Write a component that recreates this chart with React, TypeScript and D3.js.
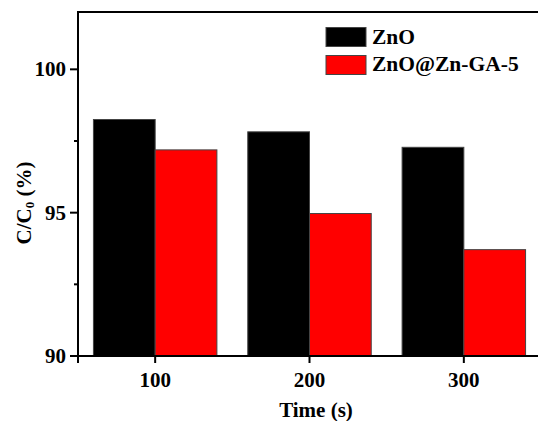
import * as d3 from "d3";
import { useEffect, useRef } from "react";

const times = [100, 200, 300];
const zno = [98.25, 97.82, 97.28];
const znoGa = [97.19, 94.97, 93.71];
const seriesNames = ["ZnO", "ZnO@Zn-GA-5"];
const seriesColors = ["#000000", "#ff0000"];
const yTicks = [90, 95, 100];
const yMinor = [92.5, 97.5];

function App() {
  const ref = useRef<SVGSVGElement | null>(null);

  useEffect(() => {
    const svg = d3.select(ref.current);
    svg.selectAll("*").remove();

    const font = "'Liberation Serif', 'Times New Roman', serif";
    const x = d3.scaleLinear().domain([50, 350]).range([78, 541]);
    const y = d3.scaleLinear().domain([90, 102]).range([356, 12]);

    const series = [zno, znoGa];
    const barW = 40;

    // bars
    series.forEach((vals, si) => {
      svg.append("g").selectAll("rect").data(vals).join("rect")
        .attr("x", (_, i) => x(times[i] - barW + si * barW))
        .attr("width", x(barW) - x(0))
        .attr("y", d => y(d))
        .attr("height", d => y(90) - y(d))
        .attr("fill", seriesColors[si])
        .attr("stroke", "#444")
        .attr("stroke-width", 1);
    });

    // frame lines
    const ax = svg.append("g").attr("stroke", "#000").attr("stroke-width", 2);
    ax.append("line").attr("x1", 78).attr("x2", 78).attr("y1", 12).attr("y2", 363);
    ax.append("line").attr("x1", 77).attr("x2", 538).attr("y1", 12).attr("y2", 12);
    ax.append("line").attr("x1", 77).attr("x2", 538).attr("y1", y(90)).attr("y2", y(90));

    // y ticks
    ax.selectAll(".ymaj").data(yTicks).join("line")
      .attr("x1", 70).attr("x2", 78).attr("y1", d => y(d)).attr("y2", d => y(d));
    ax.selectAll(".ymin").data(yMinor).join("line").attr("class", "ymin")
      .attr("x1", 74).attr("x2", 78).attr("y1", d => y(d)).attr("y2", d => y(d));
    svg.append("g").selectAll("text").data(yTicks).join("text")
      .attr("x", 66).attr("y", d => y(d) + 7)
      .attr("text-anchor", "end")
      .attr("font-family", font).attr("font-weight", "bold").attr("font-size", 21)
      .text(d => d);

    // x ticks
    ax.selectAll(".xmaj").data(times).join("line")
      .attr("x1", d => x(d)).attr("x2", d => x(d)).attr("y1", y(90)).attr("y2", y(90) + 7);
    svg.append("g").selectAll("text").data(times).join("text")
      .attr("x", d => x(d)).attr("y", 387)
      .attr("text-anchor", "middle")
      .attr("font-family", font).attr("font-weight", "bold").attr("font-size", 21)
      .text(d => d);

    // axis titles
    svg.append("text")
      .attr("x", 316).attr("y", 417)
      .attr("text-anchor", "middle")
      .attr("font-family", font).attr("font-weight", "bold").attr("font-size", 21)
      .text("Time (s)");

    const yl = svg.append("text")
      .attr("transform", "translate(31,203) rotate(-90)")
      .attr("text-anchor", "middle")
      .attr("font-family", font).attr("font-weight", "bold").attr("font-size", 21);
    yl.append("tspan").text("C/C");
    yl.append("tspan").attr("font-size", 13).attr("dy", 3).text("0");
    yl.append("tspan").attr("dy", -3).text(" (%)");

    // legend
    const lg = svg.append("g");
    seriesNames.forEach((name, i) => {
      lg.append("rect")
        .attr("x", 326).attr("y", 27.5 + i * 28)
        .attr("width", 40).attr("height", 19)
        .attr("fill", seriesColors[i])
        .attr("stroke", "#444").attr("stroke-width", 1);
      lg.append("text")
        .attr("x", 372).attr("y", 44 + i * 27)
        .attr("font-family", font).attr("font-weight", "bold").attr("font-size", 21.5)
        .text(name);
    });
  }, []);

  return (
    <svg ref={ref} width={538} height={421}
      style={{ position: "absolute", left: 0, top: 0, background: "#fff" }} />
  );
}

export default App;
